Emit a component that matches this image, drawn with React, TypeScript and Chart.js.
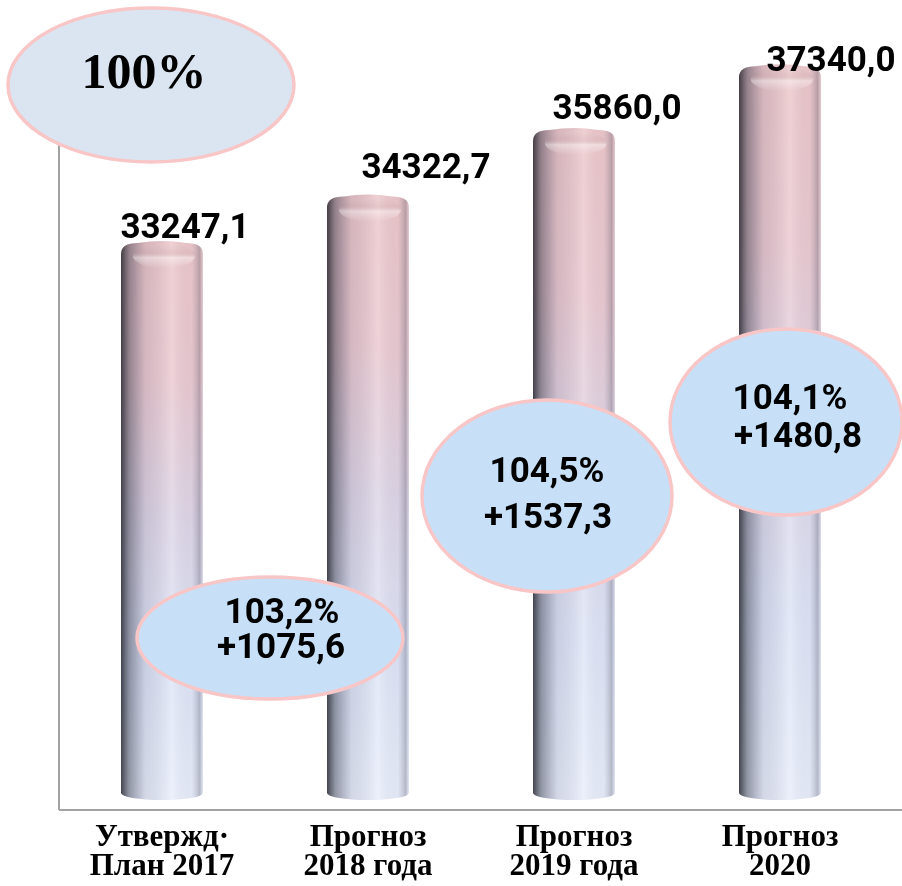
import React, { useEffect, useRef } from "react";
import { Chart, registerables } from "chart.js";

Chart.register(...registerables);

// ---------- data ----------
const categories: string[][] = [
  ["Утвержд·", "План 2017"],
  ["Прогноз", "2018 года"],
  ["Прогноз", "2019 года"],
  ["Прогноз", "2020"],
];
const values: number[] = [33247.1, 34322.7, 35860.0, 37340.0];
const valueLabels: string[] = ["33247,1", "34322,7", "35860,0", "37340,0"];
const baseShare = "100%";
const growthPercent: string[] = ["103,2%", "104,5%", "104,1%"];
const growthAbsolute: string[] = ["+1075,6", "+1537,3", "+1480,8"];
const yMin = 20100;
const yMax = 38270;

// ---------- layout / style ----------
const W = 902;
const H = 886;
const labelOffsets = [
  { dx: 23, dy: -4 },
  { dx: 58, dy: -18 },
  { dx: 43, dy: -10 },
  { dx: 51, dy: 6 },
];
const baseCallout = { cx: 151, cy: 85, rx: 143, ry: 77, tx: 144, ty: 88 };
const growthCallouts = [
  { cx: 270, cy: 638, rx: 133, ry: 61, t1x: 282, t1y: 623, t2x: 281, t2y: 658 },
  { cx: 547, cy: 496, rx: 125, ry: 96, t1x: 547, t1y: 482, t2x: 548, t2y: 528 },
  { cx: 786, cy: 422, rx: 116, ry: 93, t1x: 790, t1y: 409, t2x: 798, t2y: 447 },
];
const numFont = "bold 35px Roboto, 'Liberation Sans', sans-serif";

function drawCylinder(ctx: CanvasRenderingContext2D, x: number, top: number, bottom: number, w: number) {
  const l = x - w / 2;
  const r = x + w / 2;
  const cr = 12;
  const bry = 7;
  ctx.save();
  ctx.beginPath();
  ctx.moveTo(l, bottom - bry);
  ctx.lineTo(l, top + cr);
  ctx.quadraticCurveTo(l, top + 1, l + cr * 1.4, top + 1);
  ctx.quadraticCurveTo(x, top - 3, r - cr * 1.4, top + 1);
  ctx.quadraticCurveTo(r, top + 1, r, top + cr);
  ctx.lineTo(r, bottom - bry);
  ctx.ellipse(x, bottom - bry, w / 2, bry, 0, 0, Math.PI, false);
  ctx.closePath();
  ctx.clip();

  const vg = ctx.createLinearGradient(0, top, 0, bottom);
  vg.addColorStop(0, "#ecc6c9");
  vg.addColorStop(0.25, "#eac9d0");
  vg.addColorStop(0.5, "#ddd5e6");
  vg.addColorStop(0.75, "#dde4f6");
  vg.addColorStop(1, "#e8edfa");
  ctx.fillStyle = vg;
  ctx.fillRect(l - 2, top - 5, w + 4, bottom - top + 10);

  const hg = ctx.createLinearGradient(l, 0, r, 0);
  hg.addColorStop(0, "rgba(20,22,30,0.78)");
  hg.addColorStop(0.1, "rgba(40,44,60,0.45)");
  hg.addColorStop(0.3, "rgba(60,60,90,0.12)");
  hg.addColorStop(0.62, "rgba(255,255,255,0.18)");
  hg.addColorStop(0.86, "rgba(120,120,140,0.06)");
  hg.addColorStop(0.96, "rgba(60,60,80,0.3)");
  hg.addColorStop(1, "rgba(210,210,220,0.25)");
  ctx.fillStyle = hg;
  ctx.fillRect(l - 2, top - 5, w + 4, bottom - top + 10);

  // top rim shading and soft highlight
  const tg = ctx.createLinearGradient(0, top, 0, top + 26);
  tg.addColorStop(0, "rgba(255,255,255,0.08)");
  tg.addColorStop(0.35, "rgba(160,120,125,0.08)");
  tg.addColorStop(0.6, "rgba(255,255,255,0.4)");
  tg.addColorStop(1, "rgba(255,255,255,0)");
  ctx.fillStyle = tg;
  ctx.beginPath();
  ctx.ellipse(x + 2, top + 14, w * 0.38, 12, 0, 0, Math.PI * 2);
  ctx.fill();
  ctx.restore();
}

function drawEllipse(ctx: CanvasRenderingContext2D, cx: number, cy: number, rx: number, ry: number, fill: string) {
  ctx.save();
  ctx.beginPath();
  ctx.ellipse(cx, cy, rx, ry, 0, 0, Math.PI * 2);
  ctx.fillStyle = fill;
  ctx.fill();
  ctx.lineWidth = 3.5;
  ctx.strokeStyle = "#f8c6c6";
  ctx.stroke();
  ctx.restore();
}

const cylinderPlugin = {
  id: "cylinders",
  afterDatasetsDraw(chart: any) {
    const ctx: CanvasRenderingContext2D = chart.ctx;
    const area = chart.chartArea;
    const meta = chart.getDatasetMeta(0);

    // axes lines
    ctx.save();
    ctx.strokeStyle = "#a3a3a3";
    ctx.lineWidth = 2;
    ctx.beginPath();
    ctx.moveTo(area.left, area.top + 110);
    ctx.lineTo(area.left, area.bottom);
    ctx.moveTo(area.left, area.bottom);
    ctx.lineTo(chart.width, area.bottom);
    ctx.stroke();
    ctx.restore();

    meta.data.forEach((el: any) => {
      const p = el.getProps(["x", "y", "width"], true);
      drawCylinder(ctx, p.x, p.y, area.bottom - 10, p.width);
    });

    // value labels
    ctx.save();
    ctx.font = numFont;
    ctx.fillStyle = "#000";
    ctx.textAlign = "center";
    ctx.textBaseline = "alphabetic";
    meta.data.forEach((el: any, i: number) => {
      const p = el.getProps(["x", "y"], true);
      ctx.fillText(valueLabels[i], p.x + labelOffsets[i].dx, p.y + labelOffsets[i].dy);
    });
    ctx.restore();

    // callouts
    drawEllipse(ctx, baseCallout.cx, baseCallout.cy, baseCallout.rx, baseCallout.ry, "#dbe5f1");
    ctx.save();
    ctx.font = "bold 50px 'Liberation Serif', 'Times New Roman', serif";
    ctx.fillStyle = "#000";
    ctx.textAlign = "center";
    ctx.fillText(baseShare, baseCallout.tx, baseCallout.ty);
    ctx.restore();

    growthCallouts.forEach((c, i) => {
      drawEllipse(ctx, c.cx, c.cy, c.rx, c.ry, "#c7e0f8");
      ctx.save();
      ctx.font = numFont;
      ctx.fillStyle = "#000";
      ctx.textAlign = "center";
      ctx.fillText(growthPercent[i], c.t1x, c.t1y);
      ctx.fillText(growthAbsolute[i], c.t2x, c.t2y);
      ctx.restore();
    });
  },
};

export default function App() {
  const ref = useRef<HTMLCanvasElement | null>(null);
  useEffect(() => {
    document.body.style.margin = "0";
    const canvas = ref.current;
    if (!canvas) return;
    const chart = new Chart(canvas, {
      type: "bar",
      data: {
        labels: categories,
        datasets: [
          {
            data: values,
            backgroundColor: "rgba(0,0,0,0)",
            borderWidth: 0,
            barPercentage: 0.398,
            categoryPercentage: 1,
          },
        ],
      },
      options: {
        responsive: false,
        animation: false,
        devicePixelRatio: 1,
        layout: { padding: { left: 59, right: 19, top: 25, bottom: 0 } },
        plugins: { legend: { display: false }, tooltip: { enabled: false } },
        scales: {
          y: { display: false, min: yMin, max: yMax },
          x: {
            grid: { display: false, drawTicks: false },
            border: { display: false },
            ticks: {
              color: "#000",
              padding: 13,
              maxRotation: 0,
              font: { family: "'Liberation Serif', 'Times New Roman', serif", weight: "bold", size: 31, lineHeight: 0.95 },
            },
            afterFit: (scale: any) => {
              scale.height = 76;
            },
          },
        },
      },
      plugins: [cylinderPlugin],
    } as any);
    return () => chart.destroy();
  }, []);
  return (
    <div style={{ position: "absolute", left: 0, top: 0, width: W, height: H, background: "#fff" }}>
      <canvas ref={ref} width={W} height={H} style={{ width: W, height: H, display: "block" }} />
    </div>
  );
}
